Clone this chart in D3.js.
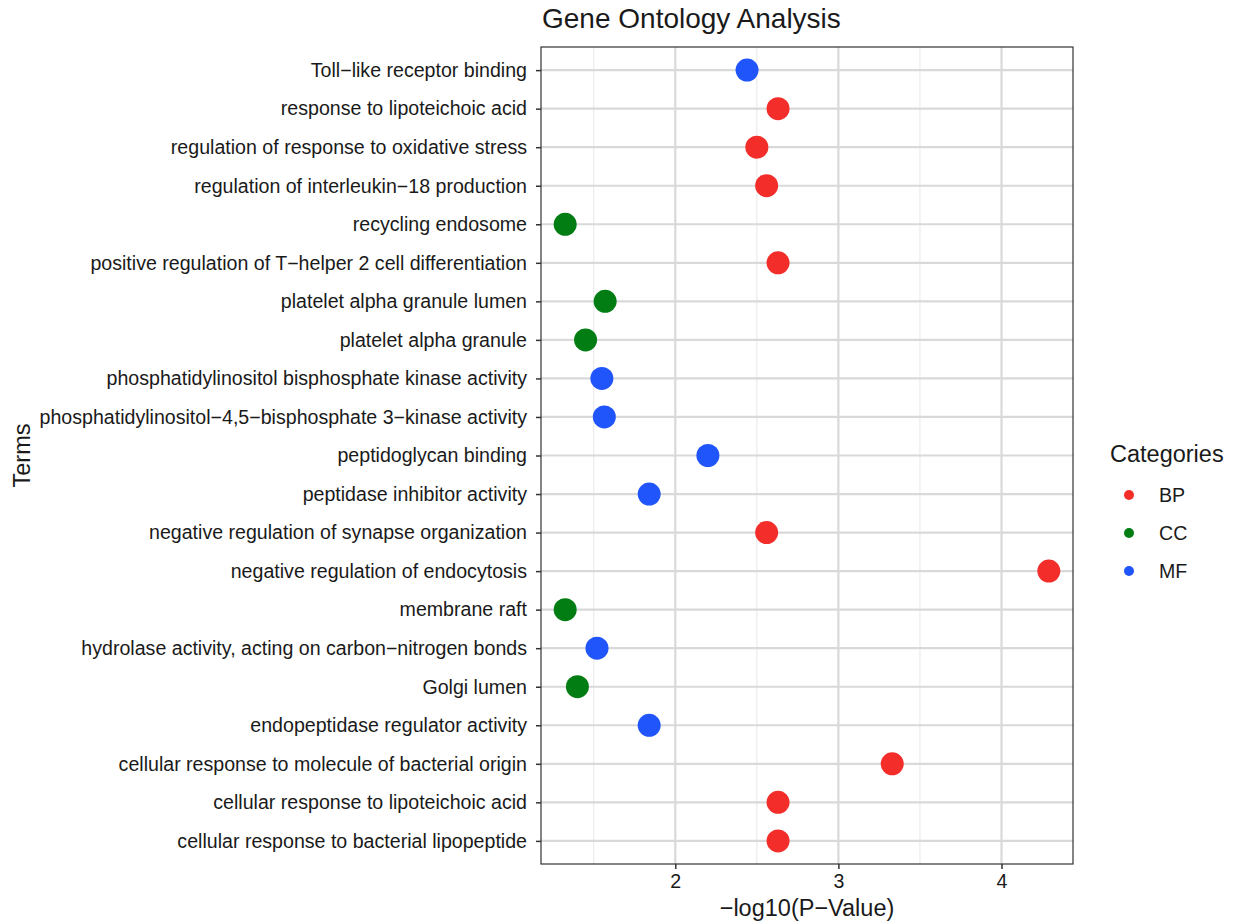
<!DOCTYPE html>
<html>
<head>
<meta charset="utf-8">
<script src="https://cdn.jsdelivr.net/npm/d3@7"></script>
<style>
  body { margin: 0; background: #fff; }
  text { font-family: "Liberation Sans", Arial, sans-serif; fill: #1a1a1a; }
</style>
</head>
<body>
<div id="chart-area"></div>
<script>
// Terms, top to bottom as drawn
var terms = [
    "Toll\u2212like receptor binding",
    "response to lipoteichoic acid",
    "regulation of response to oxidative stress",
    "regulation of interleukin\u221218 production",
    "recycling endosome",
    "positive regulation of T\u2212helper 2 cell differentiation",
    "platelet alpha granule lumen",
    "platelet alpha granule",
    "phosphatidylinositol bisphosphate kinase activity",
    "phosphatidylinositol\u22124,5\u2212bisphosphate 3\u2212kinase activity",
    "peptidoglycan binding",
    "peptidase inhibitor activity",
    "negative regulation of synapse organization",
    "negative regulation of endocytosis",
    "membrane raft",
    "hydrolase activity, acting on carbon\u2212nitrogen bonds",
    "Golgi lumen",
    "endopeptidase regulator activity",
    "cellular response to molecule of bacterial origin",
    "cellular response to lipoteichoic acid",
    "cellular response to bacterial lipopeptide"
];
var logP = [2.44, 2.63, 2.50, 2.56, 1.325, 2.63, 1.57, 1.45, 1.55, 1.565,
            2.20, 1.84, 2.56, 4.29, 1.325, 1.52, 1.40, 1.84, 3.33, 2.63, 2.63];
var cats = ["MF", "BP", "BP", "BP", "CC", "BP", "CC", "CC", "MF", "MF",
            "MF", "MF", "BP", "BP", "CC", "MF", "CC", "MF", "BP", "BP", "BP"];
var categories = ["BP", "CC", "MF"];
var catColors = ["#f32e2a", "#027d14", "#2155fc"];
var xTicks = [2, 3, 4];
var xMinor = [1.5, 2.5, 3.5];

var data = terms.map(function(t, i) {
    return {term: t, value: logP[i], cat: cats[i]};
});

var margin = {top: 47, right: 165, bottom: 60, left: 541};
var width = 1238 - margin.left - margin.right,
    height = 924 - margin.top - margin.bottom;

var svg = d3.select("#chart-area").append("svg")
    .attr("width", 1238)
    .attr("height", 924);

var g = svg.append("g")
    .attr("transform", "translate(" + margin.left + "," + margin.top + ")");

// ggplot-like 5% expansion
var lo = d3.min(logP), hi = d3.max(logP), pad = (hi - lo) * 0.05;
var x = d3.scaleLinear().domain([lo - pad, hi + pad]).range([0, width]);

var y = d3.scalePoint().domain(terms).range([0, height]).padding(0.6);

var color = d3.scaleOrdinal().domain(categories).range(catColors);

// minor grid
g.selectAll(".minor").data(xMinor).enter().append("line")
    .attr("x1", function(d) { return x(d); }).attr("x2", function(d) { return x(d); })
    .attr("y1", 0).attr("y2", height)
    .attr("stroke", "#ebebeb").attr("stroke-width", 1.2);

// major grid
g.selectAll(".vmajor").data(xTicks).enter().append("line")
    .attr("x1", function(d) { return x(d); }).attr("x2", function(d) { return x(d); })
    .attr("y1", 0).attr("y2", height)
    .attr("stroke", "#d9d9d9").attr("stroke-width", 2.2);

g.selectAll(".hmajor").data(terms).enter().append("line")
    .attr("x1", 0).attr("x2", width)
    .attr("y1", function(d) { return y(d); }).attr("y2", function(d) { return y(d); })
    .attr("stroke", "#d9d9d9").attr("stroke-width", 2.2);

// points
g.selectAll(".dot").data(data).enter().append("circle")
    .attr("cx", function(d) { return x(d.value); })
    .attr("cy", function(d) { return y(d.term); })
    .attr("r", 11.5)
    .attr("fill", function(d) { return color(d.cat); });

// border
g.append("rect")
    .attr("width", width).attr("height", height)
    .attr("fill", "none").attr("stroke", "#333").attr("stroke-width", 1.2);

// axes
var yAxis = g.append("g")
    .call(d3.axisLeft(y).tickSize(5).tickPadding(9));
yAxis.select(".domain").remove();
yAxis.selectAll("line").attr("stroke", "#333").attr("stroke-width", 1.5);
yAxis.selectAll("text").style("font-size", "19.6px").attr("fill", "#1a1a1a");

var xAxis = g.append("g")
    .attr("transform", "translate(0," + height + ")")
    .call(d3.axisBottom(x).tickValues(xTicks).tickFormat(d3.format("d")).tickSize(5).tickPadding(5));
xAxis.select(".domain").remove();
xAxis.selectAll("line").attr("stroke", "#333").attr("stroke-width", 1.5);
xAxis.selectAll("text").style("font-size", "19.6px").attr("fill", "#333");

// titles
svg.append("text")
    .attr("x", margin.left + 1)
    .attr("y", 28)
    .style("font-size", "28px")
    .text("Gene Ontology Analysis");

svg.append("text")
    .attr("x", margin.left + width / 2)
    .attr("y", 916)
    .attr("text-anchor", "middle")
    .style("font-size", "23.5px")
    .text("\u2212log10(P\u2212Value)");

svg.append("text")
    .attr("transform", "translate(30," + (margin.top + height / 2) + ") rotate(-90)")
    .attr("text-anchor", "middle")
    .style("font-size", "23.5px")
    .text("Terms");

// legend
var legend = svg.append("g").attr("transform", "translate(1110,0)");
legend.append("text")
    .attr("x", 0).attr("y", 462)
    .style("font-size", "23.5px")
    .text("Categories");

var item = legend.selectAll(".item").data(categories).enter().append("g")
    .attr("transform", function(d, i) { return "translate(0," + (495 + i * 38) + ")"; });
item.append("circle")
    .attr("cx", 19).attr("cy", 0).attr("r", 5)
    .attr("fill", function(d) { return color(d); });
item.append("text")
    .attr("x", 49).attr("y", 7)
    .style("font-size", "19.6px")
    .text(function(d) { return d; });
</script>
</body>
</html>
